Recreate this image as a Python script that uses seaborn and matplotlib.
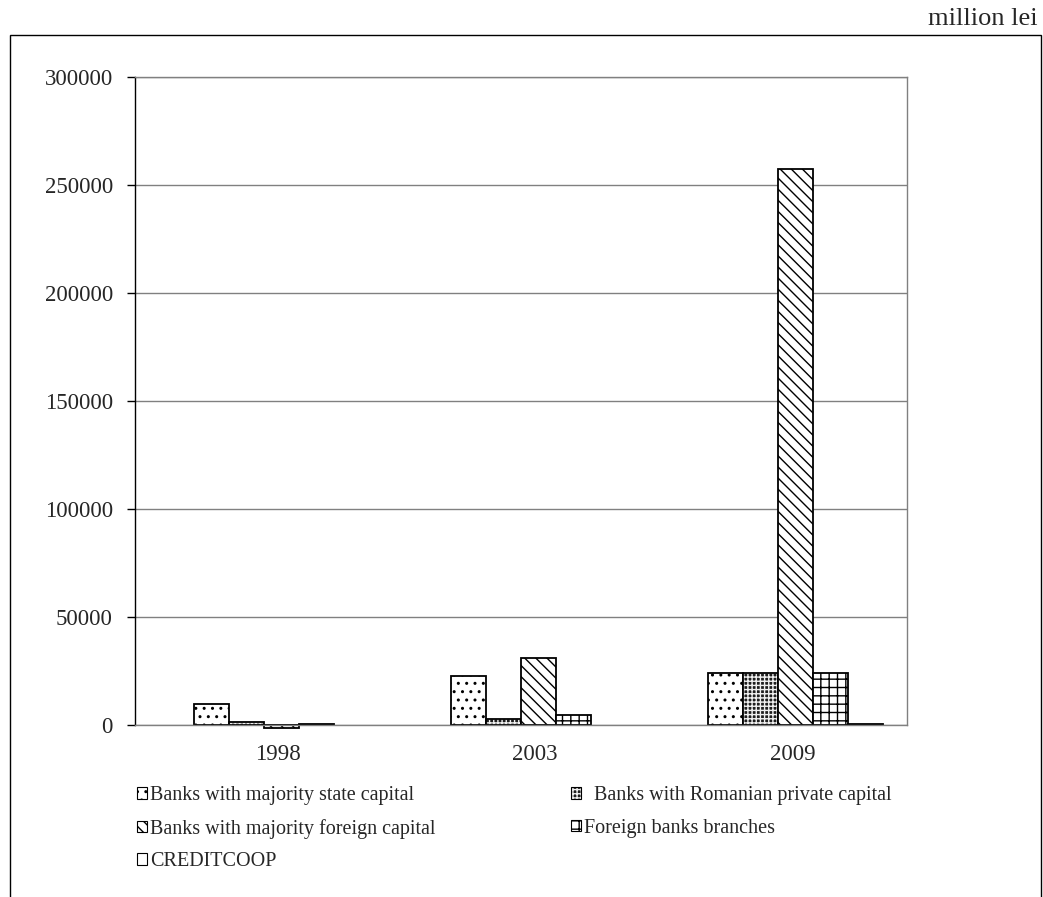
import numpy as np
import pandas as pd
import matplotlib
matplotlib.use("Agg")
import matplotlib.pyplot as plt
import seaborn as sns
from matplotlib.patches import Patch, Rectangle

# ---------------- data ----------------
years = ["1998", "2003", "2009"]
series_names = [
    "Banks with majority state capital",
    "Banks with Romanian private capital",
    "Banks with majority foreign capital",
    "Foreign banks branches",
    "CREDITCOOP",
]
state_capital = [9700, 22700, 24000]
romanian_private = [1400, 2800, 24000]
foreign_capital = [-1300, 31000, 257500]
foreign_branches = [600, 4600, 24000]
creditcoop = [np.nan, np.nan, 600]
y_ticks = [0, 50000, 100000, 150000, 200000, 250000, 300000]
unit_label = "million lei"

values = [state_capital, romanian_private, foreign_capital, foreign_branches, creditcoop]
rows = []
for name, vals in zip(series_names, values):
    for yr, v in zip(years, vals):
        rows.append({"year": yr, "series": name, "value": v})
df = pd.DataFrame(rows)

# ---------------- style ----------------
sns.set_theme(style="white")
plt.rcParams["font.family"] = ["Liberation Serif", "DejaVu Serif"]
plt.rcParams["hatch.linewidth"] = 1.0
plt.rcParams["hatch.color"] = "black"

W, H = 1043, 897
fig = plt.figure(figsize=(W / 100, H / 100), dpi=100)
ax = fig.add_axes([135 / W, 1 - 725 / H, 772 / W, 648 / H])

gap_level = "_gap"
hue_order = [gap_level] + series_names
palette = {k: "white" for k in hue_order}
group_width = 0.817

sns.barplot(data=df, x="year", y="value", hue="series", order=years,
            hue_order=hue_order, palette=palette, saturation=1,
            edgecolor="black", linewidth=1.3, width=group_width,
            errorbar=None, legend=False, ax=ax)

hatches = ["..", "++++", "\\\\\\", "++", ""]
faces = ["white", "#1e1e1e", "white", "white", "white"]
hatch_colors = ["black", "#f0f0f0", "black", "black", "black"]
bw = group_width / len(hue_order)


def style_patch(p, i):
    p.set_hatch(hatches[i])
    p.set_facecolor(faces[i])
    p.set_edgecolor("black")
    p._hatch_color = matplotlib.colors.to_rgba(hatch_colors[i])


for p in ax.patches:
    xc = p.get_x() + p.get_width() / 2
    cat = round(xc)
    slot = int(round((xc - cat) / bw + (len(hue_order) - 1) / 2))
    idx = slot - 1
    if 0 <= idx < len(series_names):
        style_patch(p, idx)
    p.set_clip_on(False)

ax.set_ylim(0, 300000)
ax.set_yticks(y_ticks)
ax.set_yticklabels([str(t) for t in y_ticks])
ax.set_xlim(-0.5, 2.5)
ax.set_xticks([i + 0.055 for i in range(len(years))])
ax.set_xticklabels(years)
ax.set_xlabel("")
ax.set_ylabel("")
ax.yaxis.grid(True, color="#808080", lw=1)
ax.xaxis.grid(False)
ax.set_axisbelow(True)
for s in ["top", "right", "bottom"]:
    ax.spines[s].set_color("#808080")
    ax.spines[s].set_linewidth(1)
ax.spines["left"].set_color("black")
ax.spines["left"].set_linewidth(1)
ax.tick_params(axis="y", left=True, length=6, width=1, color="black",
               labelsize=16.5, pad=10, direction="out")
ax.tick_params(axis="x", bottom=False, labelsize=16.5, pad=8)

# legend
order = [0, 2, 4, 1, 3]
handles = []
for i in order:
    h = Patch(facecolor=faces[i], edgecolor="black", hatch=hatches[i], lw=0.8)
    h._hatch_color = matplotlib.colors.to_rgba(hatch_colors[i])
    handles.append(h)
labels = [series_names[i] for i in order]
labels[3] = "  " + labels[3]
fig.legend(handles, labels, ncol=2, loc="upper left",
           bbox_to_anchor=(137 / W, 1 - 786 / H), frameon=False, fontsize=14.5,
           handlelength=0.5, handleheight=0.5, handletextpad=0.15,
           columnspacing=6.7, labelspacing=0.68, borderaxespad=0, borderpad=0)

# outer frame and unit label
fig.add_artist(Rectangle((10 / W, -0.1), (1041 - 10) / W, 1 - 35 / H + 0.1,
                         transform=fig.transFigure, fill=False,
                         edgecolor="black", lw=1))
fig.text(1038 / W, 1 - 25 / H, unit_label, ha="right", va="baseline", fontsize=19)

fig.savefig("out.png", dpi=100)
